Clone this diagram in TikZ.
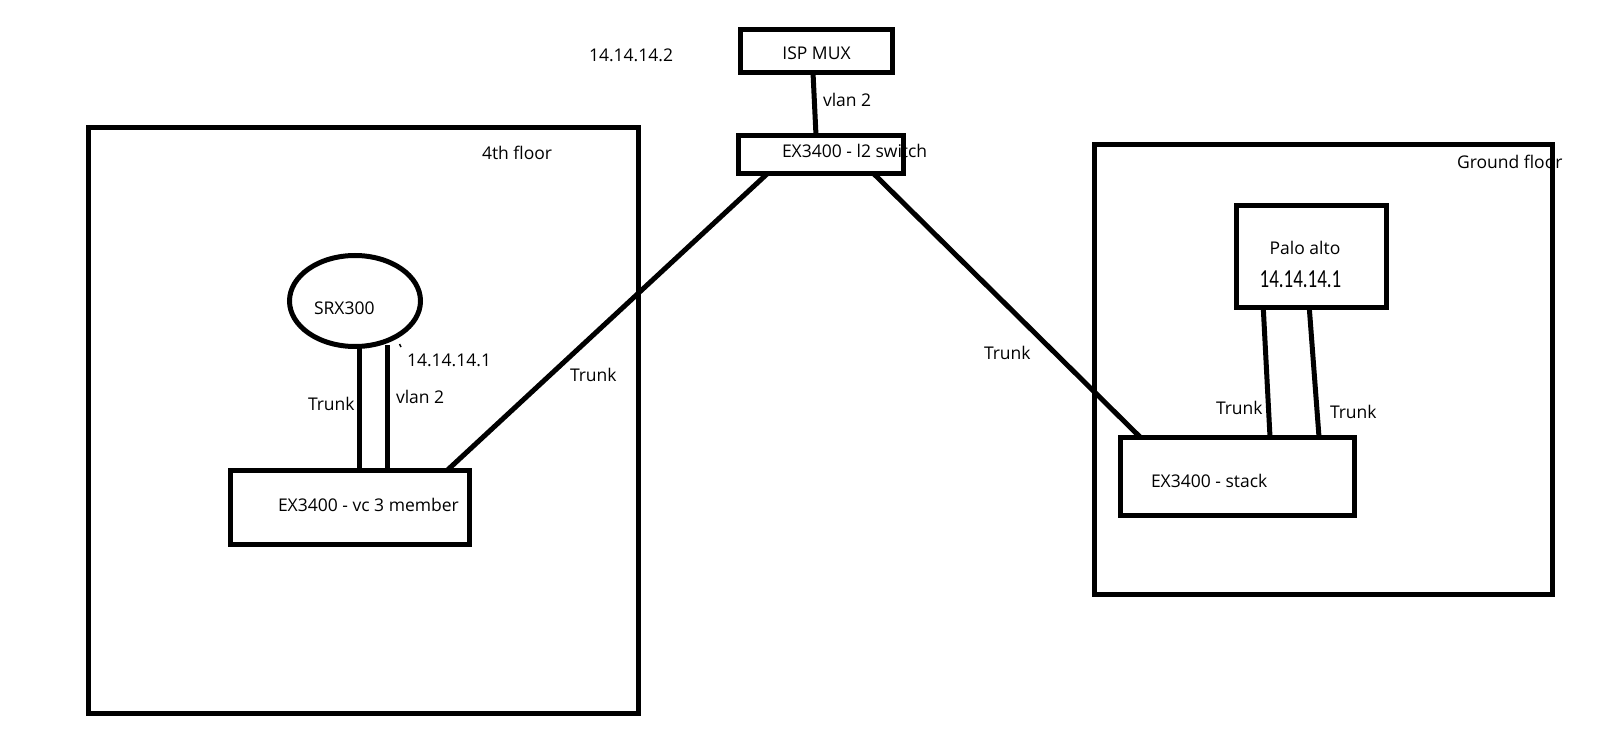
\documentclass[tikz,border=0pt]{standalone}
\usepackage{fontspec}
\setmainfont{Open Sans}
\newfontfamily\narrowfont{Carlito}
\usetikzlibrary{calc,shapes.geometric}
\begin{document}
\begin{tikzpicture}[x=1pt,y=-1pt,
  box/.style={draw, rectangle, inner sep=0pt, outer sep=0pt, line width=5pt},
  oval/.style={draw, ellipse, inner sep=0pt, outer sep=0pt, line width=5pt},
  lbl/.style={inner sep=0pt, outer sep=0pt, anchor=west, font=\fontsize{17.5}{21}\selectfont},
  clbl/.style={lbl, anchor=center},
  link/.style={line width=5pt}]
\useasboundingbox (0,0) rectangle (1609,751);
\fill[white] (0,0) rectangle (1609,751);

% areas
\node[box, minimum width=550pt, minimum height=585.5pt] (floor4) at (363.5,420.25) {};
\node[box, minimum width=458pt, minimum height=450pt] (ground) at (1323.5,369.5) {};

% devices
\node[box, minimum width=152pt, minimum height=43pt] (mux) at (816.5,51) {};
\node[box, minimum width=165pt, minimum height=38.5pt] (l2) at (821,154.75) {};
\node[oval, minimum width=131pt, minimum height=91pt] (srx) at (355,301) {};
\node[box, minimum width=239pt, minimum height=74pt] (vc) at (350,507.5) {};
\node[box, minimum width=149.5pt, minimum height=102pt] (palo) at (1311.25,256.5) {};
\node[box, minimum width=234pt, minimum height=78.5pt] (stack) at (1237.5,476.25) {};

% labels
\node[lbl] (ip2) at (589,55) {14.14.14.2};
\node[clbl] (muxt) at (816.5,53) {ISP MUX};
\node[lbl] (vlantop) at (823,100) {vlan 2};
\node[lbl] (l2t) at (782,151) {EX3400 - l2 switch};
\node[lbl] (f4t) at (482,153) {4th floor};
\node[lbl] (gft) at (1457,162) {Ground floor};
\node[lbl] (srxt) at (314,308) {SRX300};
\node[lbl] (ip1a) at (407,360) {14.14.14.1};
\node[lbl] (trsrx) at (308,404) {Trunk};
\node[lbl] (vlansrx) at (396,397) {vlan 2};
\node[lbl] (vct) at (278,505) {EX3400 - vc 3 member};
\node[lbl] (trl) at (570,375) {Trunk};
\node[lbl] (trr) at (984,353) {Trunk};
\node[clbl] (palot) at (1305,248) {Palo alto};
\node[inner sep=0pt, outer sep=0pt] (ip1b) at (1300.5,279) {\scalebox{0.73}[1]{\narrowfont\fontsize{26}{30}\selectfont 14.14.14.1}};
\node[lbl] (trp1) at (1216,408) {Trunk};
\node[lbl] (trp2) at (1330,412) {Trunk};
\node[lbl] (stackt) at (1151,481) {EX3400 - stack};

% connectors
\draw[link] ([xshift=-3.5pt]mux.south) -- ([xshift=-5pt]l2.north);
\draw[link] ([xshift=97pt]vc.north) -- ([xshift=-54pt]l2.south);
\draw[link] ([xshift=53pt]l2.south) -- ([xshift=-97.5pt]stack.north);
\coordinate (s1) at ([xshift=9pt]vc.north);
\coordinate (s2) at ([xshift=37pt]vc.north);
\draw[link] (s1) -- (s1 |- srx.south);
\draw[link] (s2) -- ($(s2 |- srx.south)+(0,-2)$);
\draw[link] ([xshift=-48pt]palo.south) -- ([xshift=32.5pt]stack.north);
\draw[link] ([xshift=-2pt]palo.south) -- ([xshift=81.5pt]stack.north);

% small stray mark
\coordinate (tk) at (399.5,344);
\draw[line width=1.5pt] (tk) -- ++(1.5,3);
\end{tikzpicture}
\end{document}
